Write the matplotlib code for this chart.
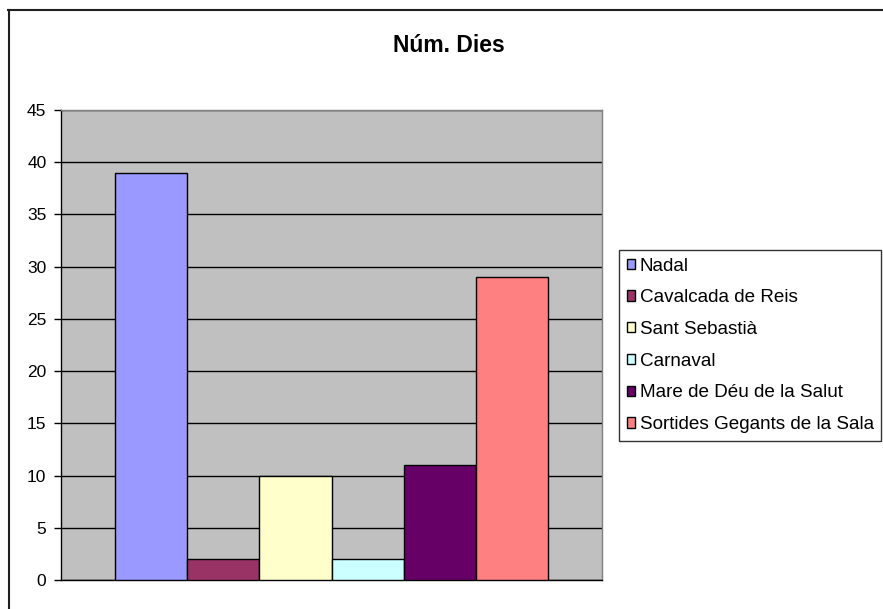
#!/usr/bin/env python3
"""
Bar chart - number of days per festivity (Excel style)
"""

import matplotlib
matplotlib.use('Agg')
import matplotlib.pyplot as plt
from matplotlib.lines import Line2D

# Data
title = 'Núm. Dies'
festes = ['Nadal', 'Cavalcada de Reis', 'Sant Sebastià', 'Carnaval',
          'Mare de Déu de la Salut', 'Sortides Gegants de la Sala']
dies = [39, 2, 10, 2, 11, 29]
colors = ['#9999FF', '#993366', '#FFFFCC', '#CCFFFF', '#660066', '#FF8080']
y_ticks = [0, 5, 10, 15, 20, 25, 30, 35, 40, 45]

plt.rcParams['font.family'] = ['Liberation Sans', 'DejaVu Sans']

W, H = 883, 609
fig = plt.figure(figsize=(W / 100, H / 100), dpi=100)
fig.patch.set_facecolor('white')

# Plot area (pixel coords converted to figure fractions)
ax = fig.add_axes([61 / W, (H - 580) / H, 541 / W, 470 / H])
ax.set_facecolor('#C0C0C0')

# One category, six series side by side
for i, (name, val, col) in enumerate(zip(festes, dies, colors)):
    ax.bar(i, val, width=1.0, color=col, edgecolor='black', linewidth=1.0,
           label=name, zorder=3)

ax.set_xlim(-1.25, 6.25)
ax.set_ylim(0, 45)
ax.set_yticks(y_ticks)
ax.set_xticks([])
ax.yaxis.grid(True, color='black', linewidth=1.0, zorder=1)
ax.set_axisbelow(True)
ax.tick_params(axis='y', length=5, width=1, direction='out', pad=5.5,
               labelsize=12.5, color='black')

ax.spines['left'].set_color('black')
ax.spines['bottom'].set_color('black')
ax.spines['top'].set_color('#808080')
ax.spines['right'].set_color('#808080')
for s in ax.spines.values():
    s.set_linewidth(1.0)

# Title
fig.text(449 / W, 1 - 45 / H, title, ha='center', va='center',
         fontsize=16.5, fontweight='bold')

# Legend
leg = fig.legend(loc='upper left', bbox_to_anchor=(619 / W, 1 - 250 / H),
                 fontsize=13.6, frameon=True, fancybox=False, shadow=False,
                 handlelength=0.45, handleheight=0.45, handletextpad=0.25,
                 labelspacing=0.78, borderpad=0.4, borderaxespad=0)
leg.get_frame().set_edgecolor('black')
leg.get_frame().set_linewidth(1.0)

# Outer chart border (left and top visible, rest is cropped)
fig.add_artist(Line2D([8.5 / W, 8.5 / W], [0, 1 - 9.5 / H], color='#202020', linewidth=1.5))
fig.add_artist(Line2D([8 / W, 1], [1 - 9.5 / H, 1 - 9.5 / H], color='#202020', linewidth=1.5))

fig.savefig('out.png', dpi=100)
